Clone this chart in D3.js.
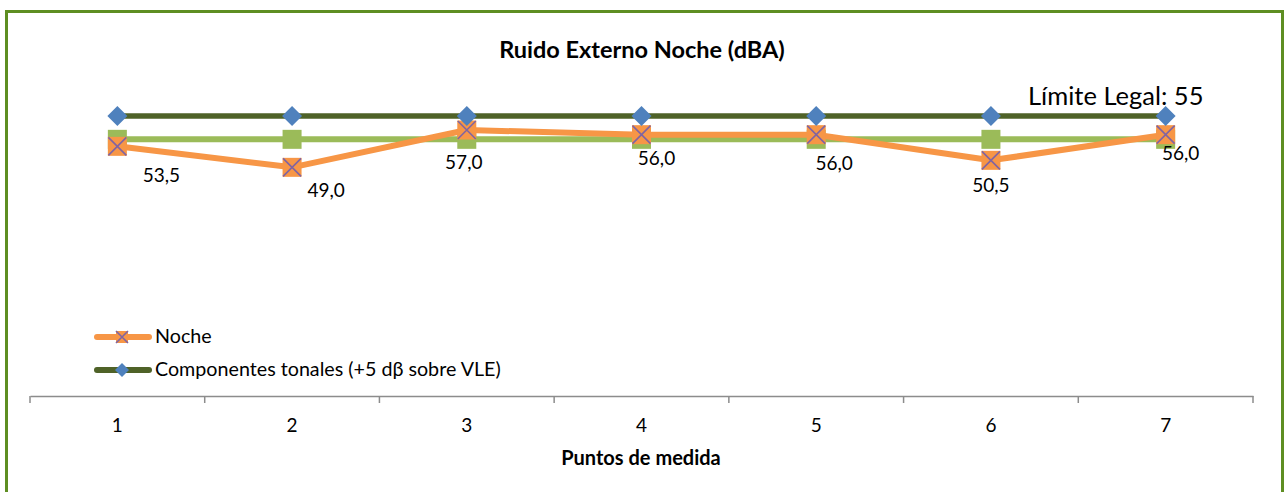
<!DOCTYPE html>
<html>
<head>
<meta charset="utf-8">
<script src="https://cdn.jsdelivr.net/npm/d3@7"></script>
<style>
  html, body { margin: 0; padding: 0; background: #fff; }
  svg { display: block; font-family: Lato, "Open Sans", sans-serif; }
</style>
</head>
<body>
<svg id="chart" width="1285" height="492"></svg>
<script>
// Measurement points and night-time noise levels (dBA)
const puntos = [1, 2, 3, 4, 5, 6, 7];
const noche = [53.5, 49.0, 57.0, 56.0, 56.0, 50.5, 56.0];
const limiteLegal = [55, 55, 55, 55, 55, 55, 55];
const componentesTonales = [60, 60, 60, 60, 60, 60, 60];
const tickLabels = ["1", "2", "3", "4", "5", "6", "7"];

// Per-point offsets of the value labels (layout only)
const labelOffsets = [
  [44, 36], [34, 30], [-3, 39], [15, 30], [18, 35], [0, 32], [15, 25]
];

const svg = d3.select("#chart");

// Outer frame
svg.append("rect")
  .attr("x", 6.5).attr("y", 11.5)
  .attr("width", 1276).attr("height", 500)
  .attr("fill", "#fff")
  .attr("stroke", "#5e8e22")
  .attr("stroke-width", 3);

const axisY = 396;
const x = d3.scaleBand().domain(puntos).range([30, 1253]).padding(0);
const cx = d => x(d) + x.bandwidth() / 2;
const y = d3.scaleLinear().domain([0, 60]).range([axisY, 116]);

// Title
svg.append("text")
  .attr("x", 642).attr("y", 58)
  .attr("text-anchor", "middle")
  .attr("font-weight", "bold")
  .attr("font-size", 23.5)
  .attr("fill", "#000")
  .text("Ruido Externo Noche (dBA)");

// Category axis
const xAxis = d3.axisBottom(x).tickSize(0).tickFormat((d, i) => tickLabels[i]);
const gx = svg.append("g").attr("transform", `translate(0,${axisY})`).call(xAxis);
gx.select(".domain").attr("stroke", "#8c8c8c").attr("stroke-width", 1.5);
gx.selectAll("text").attr("font-size", 19).attr("fill", "#000")
  .attr("y", 36).attr("dy", 0)
  .style("font-family", "Lato, 'Open Sans', sans-serif");
// tick marks at category boundaries
const bounds = puntos.map(p => x(p)).concat([x.range()[1]]);
svg.append("g").selectAll("line").data(bounds).join("line")
  .attr("x1", d => d).attr("x2", d => d)
  .attr("y1", axisY).attr("y2", axisY + 7)
  .attr("stroke", "#8c8c8c").attr("stroke-width", 1.5);

svg.append("text")
  .attr("x", 641).attr("y", 465)
  .attr("text-anchor", "middle")
  .attr("font-weight", "bold")
  .attr("font-size", 20)
  .text("Puntos de medida");

const line = d3.line().x((d, i) => cx(puntos[i])).y(d => y(d));

// Series colours
const cOrange = "#f79646", cPurple = "#8064a2", cLight = "#9bbb59",
      cDark = "#4f6228", cBlue = "#4f81bd";

function squareMarkers(data, fill, sz) {
  return svg.append("g").selectAll("rect").data(data).join("rect")
    .attr("x", (d, i) => cx(puntos[i]) - sz / 2)
    .attr("y", d => y(d) - sz / 2)
    .attr("width", sz).attr("height", sz)
    .attr("fill", fill);
}
function xMark(g, px, py, s) {
  g.append("path")
    .attr("d", `M${px - s},${py - s}L${px + s},${py + s}M${px - s},${py + s}L${px + s},${py - s}`)
    .attr("stroke", cPurple).attr("stroke-width", 1.6).attr("fill", "none");
}
function diamond(g, px, py, r) {
  g.append("path")
    .attr("d", `M${px},${py - r}L${px + r},${py}L${px},${py + r}L${px - r},${py}Z`)
    .attr("fill", cBlue);
}

// Legal limit (55 dBA)
svg.append("path").datum(limiteLegal).attr("d", line)
  .attr("fill", "none").attr("stroke", cLight).attr("stroke-width", 6);
squareMarkers(limiteLegal, cLight, 19);

// Night measurements
svg.append("path").datum(noche).attr("d", line)
  .attr("fill", "none").attr("stroke", cOrange).attr("stroke-width", 6)
  .attr("stroke-linejoin", "round");
squareMarkers(noche, cOrange, 19);
const gx1 = svg.append("g");
noche.forEach((v, i) => xMark(gx1, cx(puntos[i]), y(v), 9));

// Tonal components (+5)
svg.append("path").datum(componentesTonales).attr("d", line)
  .attr("fill", "none").attr("stroke", cDark).attr("stroke-width", 5.5);
const gd = svg.append("g");
componentesTonales.forEach((v, i) => diamond(gd, cx(puntos[i]), y(v), 10));

// Value labels for night series
svg.append("g").selectAll("text").data(noche).join("text")
  .attr("x", (d, i) => cx(puntos[i]) + labelOffsets[i][0])
  .attr("y", (d, i) => y(d) + labelOffsets[i][1])
  .attr("text-anchor", "middle")
  .attr("font-size", 19)
  .attr("fill", "#000")
  .text(d => d3.format(".1f")(d).replace(".", ","));

// Legal limit label
svg.append("text")
  .attr("x", 1028).attr("y", 105)
  .attr("font-size", 25.5)
  .attr("fill", "#000")
  .text("Límite Legal: " + limiteLegal[0]);

// Legend
const legend = svg.append("g");
const items = [
  { name: "Noche", color: cOrange, marker: "x", y: 337 },
  { name: "Componentes tonales (+5 dβ sobre VLE)", color: cDark, marker: "d", y: 370 }
];
items.forEach(it => {
  legend.append("line")
    .attr("x1", 97).attr("x2", 149).attr("y1", it.y).attr("y2", it.y)
    .attr("stroke", it.color).attr("stroke-width", 6).attr("stroke-linecap", "round");
  if (it.marker === "x") {
    legend.append("rect").attr("x", 116).attr("y", it.y - 6).attr("width", 12).attr("height", 12)
      .attr("fill", cOrange);
    xMark(legend, 122, it.y, 6);
  } else {
    diamond(legend, 122, it.y, 7);
  }
  legend.append("text")
    .attr("x", 155).attr("y", it.y + 6)
    .attr("font-size", 19.7)
    .attr("fill", "#000")
    .text(it.name);
});
</script>
</body>
</html>
